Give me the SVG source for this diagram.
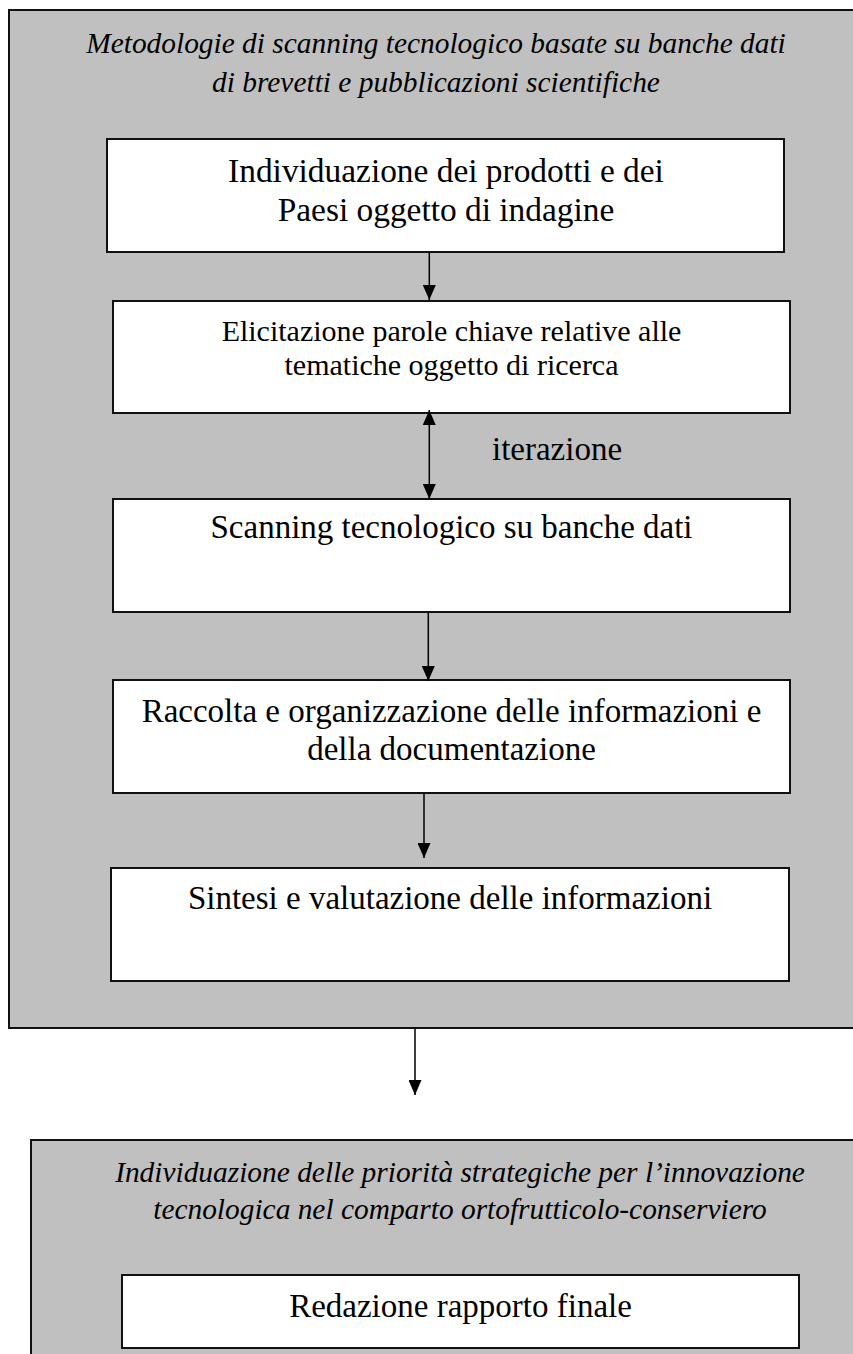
<svg xmlns="http://www.w3.org/2000/svg" width="853" height="1354" viewBox="0 0 853 1354">
<style>
.outer{fill:#c0c0c0;stroke:#111;stroke-width:2}
.box{fill:#fff;stroke:#111;stroke-width:2}
.t{font-family:"Liberation Serif","Times New Roman",serif;fill:#000;text-anchor:middle}
.it{font-style:italic;font-size:29.4px}
.conn{stroke:#000;stroke-width:1.5;fill:none}
</style>
<defs>
<marker id="ah" markerUnits="userSpaceOnUse" markerWidth="15" markerHeight="13" refX="15" refY="6.5" orient="auto-start-reverse">
<path d="M0,0 L15,6.5 L0,13 z" fill="#000"/>
</marker>
</defs>
<rect width="853" height="1354" fill="#fff"/>
<g id="container-metodologie">
<rect class="outer" x="9" y="10" width="870" height="1018"/>
<text class="t it" x="436" y="53">Metodologie di scanning tecnologico basate su banche dati</text>
<text class="t it" x="436" y="92">di brevetti e pubblicazioni scientifiche</text>
</g>
<g id="container-priorita">
<rect class="outer" x="31" y="1140" width="870" height="260"/>
<text class="t it" x="460" y="1182">Individuazione delle priorità strategiche per l’innovazione</text>
<text class="t it" x="460" y="1219">tecnologica nel comparto ortofrutticolo-conserviero</text>
</g>
<g id="node-individuazione">
<rect class="box" x="107" y="139" width="677" height="113"/>
<text class="t" x="446" y="182" font-size="33.4">Individuazione dei prodotti e dei</text>
<text class="t" x="446" y="221" font-size="33.4">Paesi oggetto di indagine</text>
</g>
<g id="node-elicitazione">
<rect class="box" x="113" y="301" width="677" height="112"/>
<text class="t" x="451.5" y="341" font-size="30">Elicitazione parole chiave relative alle</text>
<text class="t" x="451.5" y="375" font-size="30">tematiche oggetto di ricerca</text>
</g>
<g id="node-scanning">
<rect class="box" x="113" y="499" width="677" height="113"/>
<text class="t" x="451.5" y="538" font-size="33">Scanning tecnologico su banche dati</text>
</g>
<g id="node-raccolta">
<rect class="box" x="113" y="680" width="677" height="113"/>
<text class="t" x="451.5" y="722" font-size="33">Raccolta e organizzazione delle informazioni e</text>
<text class="t" x="451.5" y="760" font-size="33">della documentazione</text>
</g>
<g id="node-sintesi">
<rect class="box" x="111" y="868" width="678" height="113"/>
<text class="t" x="450" y="909" font-size="33">Sintesi e valutazione delle informazioni</text>
</g>
<g id="node-redazione">
<rect class="box" x="122" y="1275" width="677" height="73"/>
<text class="t" x="460.5" y="1317" font-size="33">Redazione rapporto finale</text>
</g>
<g id="connectors">
<line class="conn" x1="429.3" y1="253" x2="429.3" y2="300" marker-end="url(#ah)"/>
<line class="conn" x1="429.3" y1="410" x2="429.3" y2="499" marker-start="url(#ah)" marker-end="url(#ah)"/>
<text class="t" x="492" y="460" font-size="33" style="text-anchor:start">iterazione</text>
<line class="conn" x1="428.3" y1="613" x2="428.3" y2="681" marker-end="url(#ah)"/>
<line class="conn" x1="424" y1="794" x2="424" y2="858" marker-end="url(#ah)"/>
<line class="conn" x1="415" y1="1029" x2="415" y2="1095" marker-end="url(#ah)"/>
</g>
</svg>
